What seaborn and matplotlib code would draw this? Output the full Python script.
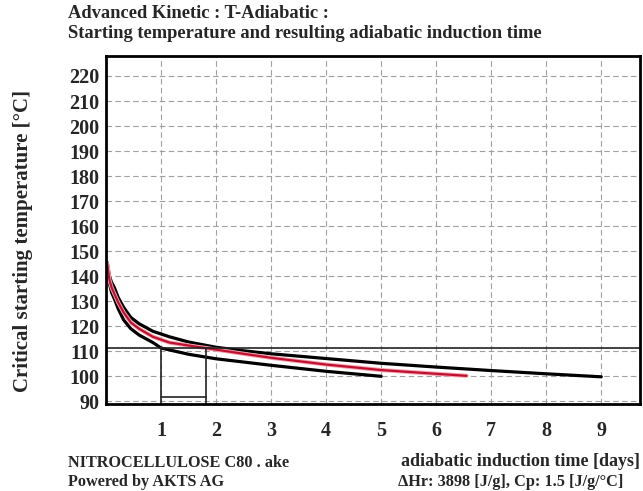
import numpy as np
import pandas as pd
import matplotlib
matplotlib.use("Agg")
import matplotlib.pyplot as plt
from matplotlib.ticker import MultipleLocator
import seaborn as sns

# ---- data ----
t_upper = [0.02, 0.06, 0.1, 0.15, 0.22, 0.32, 0.45, 0.6, 0.85, 1.15, 1.5, 2.0, 2.5, 3.0, 4.0, 5.0, 6.0, 7.0, 8.0, 9.0]
T_upper = [145.5, 140, 137.5, 135.5, 131.5, 127.5, 123.5, 121, 118, 115.8, 113.7, 111.6, 110.2, 109, 107.1, 105.2, 103.7, 102.3, 101.0, 99.8]

t_mid = [0.02, 0.06, 0.1, 0.15, 0.22, 0.32, 0.45, 0.6, 0.85, 1.15, 1.5, 1.81, 2.5, 3.0, 4.0, 5.0, 6.0, 6.55]
T_mid = [145, 138.5, 135.5, 133, 129.5, 125.5, 121.5, 119, 115.8, 113.5, 112.3, 111.3, 109, 107.4, 104.7, 102.5, 101.0, 100.2]

t_lower = [0.02, 0.06, 0.1, 0.15, 0.22, 0.32, 0.45, 0.6, 0.85, 1.0, 1.5, 2.0, 3.0, 4.0, 5.0]
T_lower = [144.5, 137, 133.5, 131, 127, 122.5, 119, 116.5, 113.5, 111.3, 108.8, 107, 104.4, 102, 100]

T_level = 111.3          # horizontal reference temperature
t_marks = [1.0, 1.81]    # induction times at reference temperature
T_box_top = 91.7

x_ticks = [1, 2, 3, 4, 5, 6, 7, 8, 9]
y_ticks = list(range(90, 221, 10))

title_lines = ["Advanced Kinetic : T-Adiabatic :",
               "Starting temperature and resulting adiabatic induction time"]
ylabel = "Critical starting temperature [°C]"
xlabel = "adiabatic induction time [days]"
foot_left = ["NITROCELLULOSE C80 . ake", "Powered by AKTS AG"]
foot_right = "ΔHr: 3898 [J/g], Cp: 1.5 [J/g/°C]"

# ---- plotting ----
sns.set_style("white")
plt.rcParams['font.family'] = ['Liberation Serif', 'DejaVu Serif']
plt.rcParams['font.weight'] = 'bold'

fig = plt.figure(figsize=(6.43, 4.91), dpi=100)
ax = fig.add_axes([0.165, 0.177, 0.83, 0.709])

df_u = pd.DataFrame({"t": t_upper, "T": T_upper})
df_m = pd.DataFrame({"t": t_mid, "T": T_mid})
df_l = pd.DataFrame({"t": t_lower, "T": T_lower})

# grid
ax.set_axisbelow(True)
ax.grid(True, which='major', color='#a0a0a0', linestyle=(0, (5, 3)), linewidth=0.8)

sns.lineplot(data=df_u, x="t", y="T", ax=ax, color="black", linewidth=2.3, sort=False, estimator=None)
sns.lineplot(data=df_l, x="t", y="T", ax=ax, color="black", linewidth=2.3, sort=False, estimator=None)
sns.lineplot(data=df_m, x="t", y="T", ax=ax, color="#f2a0ad", linewidth=3.0, sort=False, estimator=None)
sns.lineplot(data=df_m, x="t", y="T", ax=ax, color="#c01030", linewidth=1.6, sort=False, estimator=None)

ax.set_xlim(0, 9.7)
ax.set_ylim(88.9, 228)

# reference lines
ax.axhline(T_level, color="#222222", linewidth=1.2)
for tm in t_marks:
    ax.plot([tm, tm], [88.9, T_level], color="#222222", linewidth=1.2)
ax.plot(t_marks, [T_box_top, T_box_top], color="#222222", linewidth=1.2)

ax.set_xticks(x_ticks)
ax.set_yticks(y_ticks)
ax.xaxis.set_minor_locator(MultipleLocator(0.2))
ax.yaxis.set_minor_locator(MultipleLocator(2))
ax.tick_params(axis='both', which='major', direction='out', length=4, width=0.8,
               labelsize=14.5, color='#555555')
ax.tick_params(axis='both', which='minor', direction='out', length=2.5, width=0.6, color='#777777')
ax.tick_params(axis='x', pad=8)
ax.tick_params(axis='y', pad=1)
for lbl in ax.get_xticklabels() + ax.get_yticklabels():
    lbl.set_fontweight('bold')

ax.set_xlabel("")
ax.set_ylabel("")
fig.text(23 / 643, 1 - 241 / 491, ylabel, fontsize=15, fontweight='bold',
         rotation=90, va='center', ha='center')

for s in ax.spines.values():
    s.set_visible(True)
    s.set_color("black")
    s.set_linewidth(2.0)

fig.text(68 / 643, 1 - 14 / 491, title_lines[0], fontsize=13.3, fontweight='bold', va='center', ha='left')
fig.text(68 / 643, 1 - 33 / 491, title_lines[1], fontsize=13.3, fontweight='bold', va='center', ha='left')

fig.text(68 / 643, 1 - 463 / 491, foot_left[0], fontsize=11.7, fontweight='bold', va='center', ha='left')
fig.text(68 / 643, 1 - 482 / 491, foot_left[1], fontsize=11.7, fontweight='bold', va='center', ha='left')
fig.text(640 / 643, 1 - 461 / 491, xlabel, fontsize=13, fontweight='bold', va='center', ha='right')
fig.text(398 / 643, 1 - 482 / 491, foot_right, fontsize=11.7, fontweight='bold', va='center', ha='left')

fig.savefig("out.png", dpi=100)
